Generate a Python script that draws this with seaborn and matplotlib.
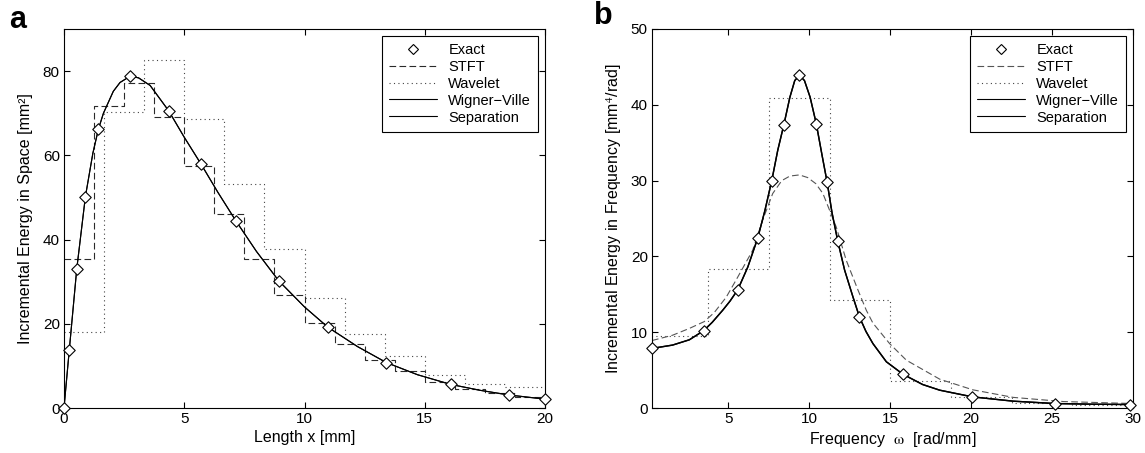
import numpy as np
import pandas as pd
import matplotlib
matplotlib.use("Agg")
import matplotlib.pyplot as plt
import seaborn as sns
from matplotlib.lines import Line2D

# ---------------- Panel a data (space domain) ----------------
exact_a_x = [0, 0.22, 0.53, 0.89, 1.43, 2.75, 4.35, 5.69, 7.14, 8.93, 10.97, 13.4, 16.08, 18.49, 20.0]
exact_a_y = [0, 13.8, 33.0, 50.2, 66.2, 78.8, 70.6, 58.0, 44.5, 30.2, 19.2, 10.6, 5.6, 3.1, 2.1]

curve_a_x = [0, 0.22, 0.53, 0.89, 1.2, 1.43, 1.64, 2.05, 2.33, 2.75, 3.1, 3.58, 4.35, 5.0, 5.69,
             6.4, 7.14, 8.0, 8.93, 10.0, 10.97, 12.2, 13.4, 14.7, 16.08, 17.3, 18.49, 20.0]
wigner_a_y = [0, 13.8, 33.0, 50.2, 60.5, 66.2, 70.0, 75.2, 77.3, 78.8, 78.4, 76.6, 70.6, 64.3, 58.0,
              51.2, 44.5, 37.2, 30.2, 24.0, 19.2, 14.6, 10.8, 7.9, 5.6, 4.2, 3.1, 2.1]
separation_a_y = [0, 13.8, 33.0, 50.2, 60.5, 66.2, 70.0, 75.2, 77.3, 78.8, 78.4, 76.6, 70.6, 64.3, 58.0,
                  51.2, 44.5, 37.2, 30.2, 24.0, 19.2, 14.6, 10.8, 7.9, 5.6, 4.2, 3.1, 2.1]

stft_a_edges = [0, 1.25, 2.5, 3.75, 5.0, 6.25, 7.5, 8.75, 10.0, 11.25, 12.5, 13.75, 15.0, 16.25, 17.5, 18.75, 20.0]
stft_a_levels = [35.4, 71.7, 77.1, 69.1, 57.5, 46.0, 35.5, 26.9, 20.3, 15.2, 11.3, 8.7, 6.1, 4.6, 3.5, 2.5]

wavelet_a_edges = [0, 1.667, 3.333, 5.0, 6.667, 8.333, 10.0, 11.667, 13.333, 15.0, 16.667, 18.333, 20.0]
wavelet_a_levels = [18.0, 70.3, 82.6, 68.7, 53.1, 37.7, 26.1, 17.6, 12.4, 7.9, 5.6, 4.9]

# ---------------- Panel b data (frequency domain) ----------------
exact_b_x = [0.28, 3.47, 5.58, 6.81, 7.68, 8.42, 9.39, 10.43, 11.1, 11.76, 13.1, 15.79, 20.08, 25.17, 29.8]
exact_b_y = [7.86, 10.2, 15.6, 22.4, 30.0, 37.3, 43.9, 37.5, 29.8, 22.0, 12.0, 4.45, 1.47, 0.59, 0.46]

curve_b_x = [0.28, 1.55, 2.59, 3.47, 4.0, 4.65, 5.1, 5.58, 6.2, 6.81, 7.25, 7.68, 8.05, 8.42, 8.8, 9.1,
             9.39, 9.7, 10.05, 10.43, 10.8, 11.1, 11.4, 11.76, 12.18, 12.69, 13.1, 13.5, 13.93, 14.76,
             15.79, 17.0, 18.06, 20.08, 22.6, 25.17, 27.5, 29.8]
wigner_b_y = [7.86, 8.3, 9.0, 10.2, 11.3, 12.9, 14.1, 15.6, 18.6, 22.4, 26.0, 30.0, 34.0, 37.3, 41.0, 43.2,
              43.9, 43.2, 41.0, 37.5, 33.2, 29.8, 25.8, 22.0, 18.2, 14.7, 12.0, 10.1, 8.5, 6.1,
              4.45, 3.1, 2.35, 1.47, 0.9, 0.59, 0.5, 0.46]
separation_b_y = [7.86, 8.3, 9.0, 10.2, 11.3, 12.9, 14.1, 15.6, 18.6, 22.4, 26.0, 30.0, 34.0, 37.3, 41.0, 43.2,
                  43.9, 43.2, 41.0, 37.5, 33.2, 29.8, 25.8, 22.0, 18.2, 14.7, 12.0, 10.1, 8.5, 6.1,
                  4.45, 3.1, 2.35, 1.47, 0.9, 0.59, 0.5, 0.46]

stft_b_x = [0.28, 1.55, 2.59, 3.51, 4.13, 4.86, 5.48, 6.5, 7.12, 7.74, 8.3, 8.8, 9.39, 9.9, 10.4, 10.84,
            11.66, 12.28, 13.0, 13.52, 13.93, 14.96, 16.0, 18.06, 20.1, 22.6, 25.7, 29.8]
stft_b_y = [8.9, 9.6, 10.5, 11.4, 12.6, 14.6, 16.9, 20.8, 24.8, 28.3, 30.0, 30.6, 30.75, 30.4, 29.6, 28.3,
            23.9, 19.5, 15.6, 12.9, 11.2, 8.5, 6.3, 3.8, 2.4, 1.4, 0.85, 0.6]

wavelet_b_edges = [0, 3.75, 7.5, 11.25, 15.0, 18.75, 22.5, 26.25, 30.0]
wavelet_b_levels = [9.5, 18.4, 40.9, 14.3, 3.6, 1.47, 0.6, 0.35]

legend_labels = ["Exact", "STFT", "Wavelet", "Wigner\u2212Ville", "Separation"]

# ---------------- Style ----------------
sns.set_style("ticks")
plt.rcParams['font.family'] = ['Liberation Sans', 'DejaVu Sans']
plt.rcParams['mathtext.fontset'] = 'stix'
plt.rcParams['axes.linewidth'] = 0.8
plt.rcParams['axes.edgecolor'] = 'black'
plt.rcParams['text.color'] = 'black'
plt.rcParams['axes.labelcolor'] = 'black'

FS_TICK = 11
FS_LABEL = 11.5
FS_LEG = 10.5
LW = 0.8
DASH = (6, 3)
DOT = (1, 3)
STFT_COL_A = '#2a2a2a'
STFT_COL_B = '#555555'
WAV_COL = '#444444'

fig = plt.figure(figsize=(11.45, 4.53), dpi=100)
axA = fig.add_axes([64 / 1145, 45 / 453, 481 / 1145, 379 / 453])
axB = fig.add_axes([652 / 1145, 45 / 453, 481 / 1145, 379 / 453])


def draw_step(ax, edges, levels, color, dashes):
    yv = list(levels) + [levels[-1]]
    sns.lineplot(x=edges, y=yv, ax=ax, drawstyle='steps-post', estimator=None, sort=False,
                 color=color, linewidth=LW)
    ax.lines[-1].set_dashes(dashes)


def draw_line(ax, x, y, color, dashes=None, lw=LW):
    sns.lineplot(x=x, y=y, ax=ax, estimator=None, sort=False, color=color, linewidth=lw)
    if dashes is not None:
        ax.lines[-1].set_dashes(dashes)


def draw_exact(ax, x, y):
    sns.scatterplot(x=x, y=y, ax=ax, marker='D', s=34, color='white', edgecolor='black',
                    linewidth=0.8, zorder=5, clip_on=False)


# Panel a
draw_step(axA, wavelet_a_edges, wavelet_a_levels, WAV_COL, DOT)
draw_step(axA, stft_a_edges, stft_a_levels, STFT_COL_A, DASH)
draw_line(axA, curve_a_x, wigner_a_y, 'black')
draw_line(axA, curve_a_x, separation_a_y, 'black')
draw_exact(axA, exact_a_x, exact_a_y)

# Panel b
draw_step(axB, wavelet_b_edges, wavelet_b_levels, WAV_COL, DOT)
draw_line(axB, stft_b_x, stft_b_y, STFT_COL_B, DASH)
draw_line(axB, curve_b_x, wigner_b_y, 'black', lw=1.0)
draw_line(axB, curve_b_x, separation_b_y, 'black', lw=1.0)
draw_exact(axB, exact_b_x, exact_b_y)

axA.set_xlim(0, 20)
axA.set_ylim(0, 90)
axA.set_xticks([0, 5, 10, 15, 20])
axA.set_yticks([0, 20, 40, 60, 80])
axB.set_xlim(0.28, 30)
axB.set_ylim(0, 50)
axB.set_xticks([5, 10, 15, 20, 25, 30])
axB.set_yticks([0, 10, 20, 30, 40, 50])

axA.set_xlabel("Length x [mm]", fontsize=FS_LABEL, labelpad=3)
axA.set_ylabel("Incremental Energy in Space [mm\u00b2]", fontsize=FS_LABEL, labelpad=7)
axB.set_xlabel(r"Frequency  $\mathrm{\omega}$  [rad/mm]", fontsize=FS_LABEL, labelpad=3)
axB.set_ylabel(r"Incremental Energy in Frequency [mm$^4$/rad]", fontsize=FS_LABEL, labelpad=5)

for ax, scol in ((axA, STFT_COL_A), (axB, STFT_COL_B)):
    for s in ax.spines.values():
        s.set_visible(True)
        s.set_color('black')
        s.set_linewidth(0.8)
    ax.tick_params(direction='in', length=4, width=0.8, top=True, right=True,
                   labelsize=FS_TICK, colors='black', pad=3)
    handles = [
        Line2D([], [], linestyle='none', marker='D', markersize=5, markerfacecolor='white',
               markeredgecolor='black', markeredgewidth=0.8),
        Line2D([], [], color=scol, linewidth=LW, dashes=DASH),
        Line2D([], [], color=WAV_COL, linewidth=LW, dashes=DOT),
        Line2D([], [], color='black', linewidth=LW),
        Line2D([], [], color='black', linewidth=LW),
    ]
    leg = ax.legend(handles, legend_labels, loc='upper right', fontsize=FS_LEG, frameon=True,
                    fancybox=False, framealpha=1, edgecolor='black', handlelength=3.3,
                    handletextpad=0.75, labelspacing=0.2, borderpad=0.5, borderaxespad=0.45)
    leg.get_frame().set_linewidth(0.8)

fig.text(9 / 1145, 1 - 28 / 453, "a", fontsize=22, fontweight='bold', ha='left', va='baseline')
fig.text(594 / 1145, 1 - 24 / 453, "b", fontsize=22, fontweight='bold', ha='left', va='baseline')

fig.savefig("out.png", dpi=100)
